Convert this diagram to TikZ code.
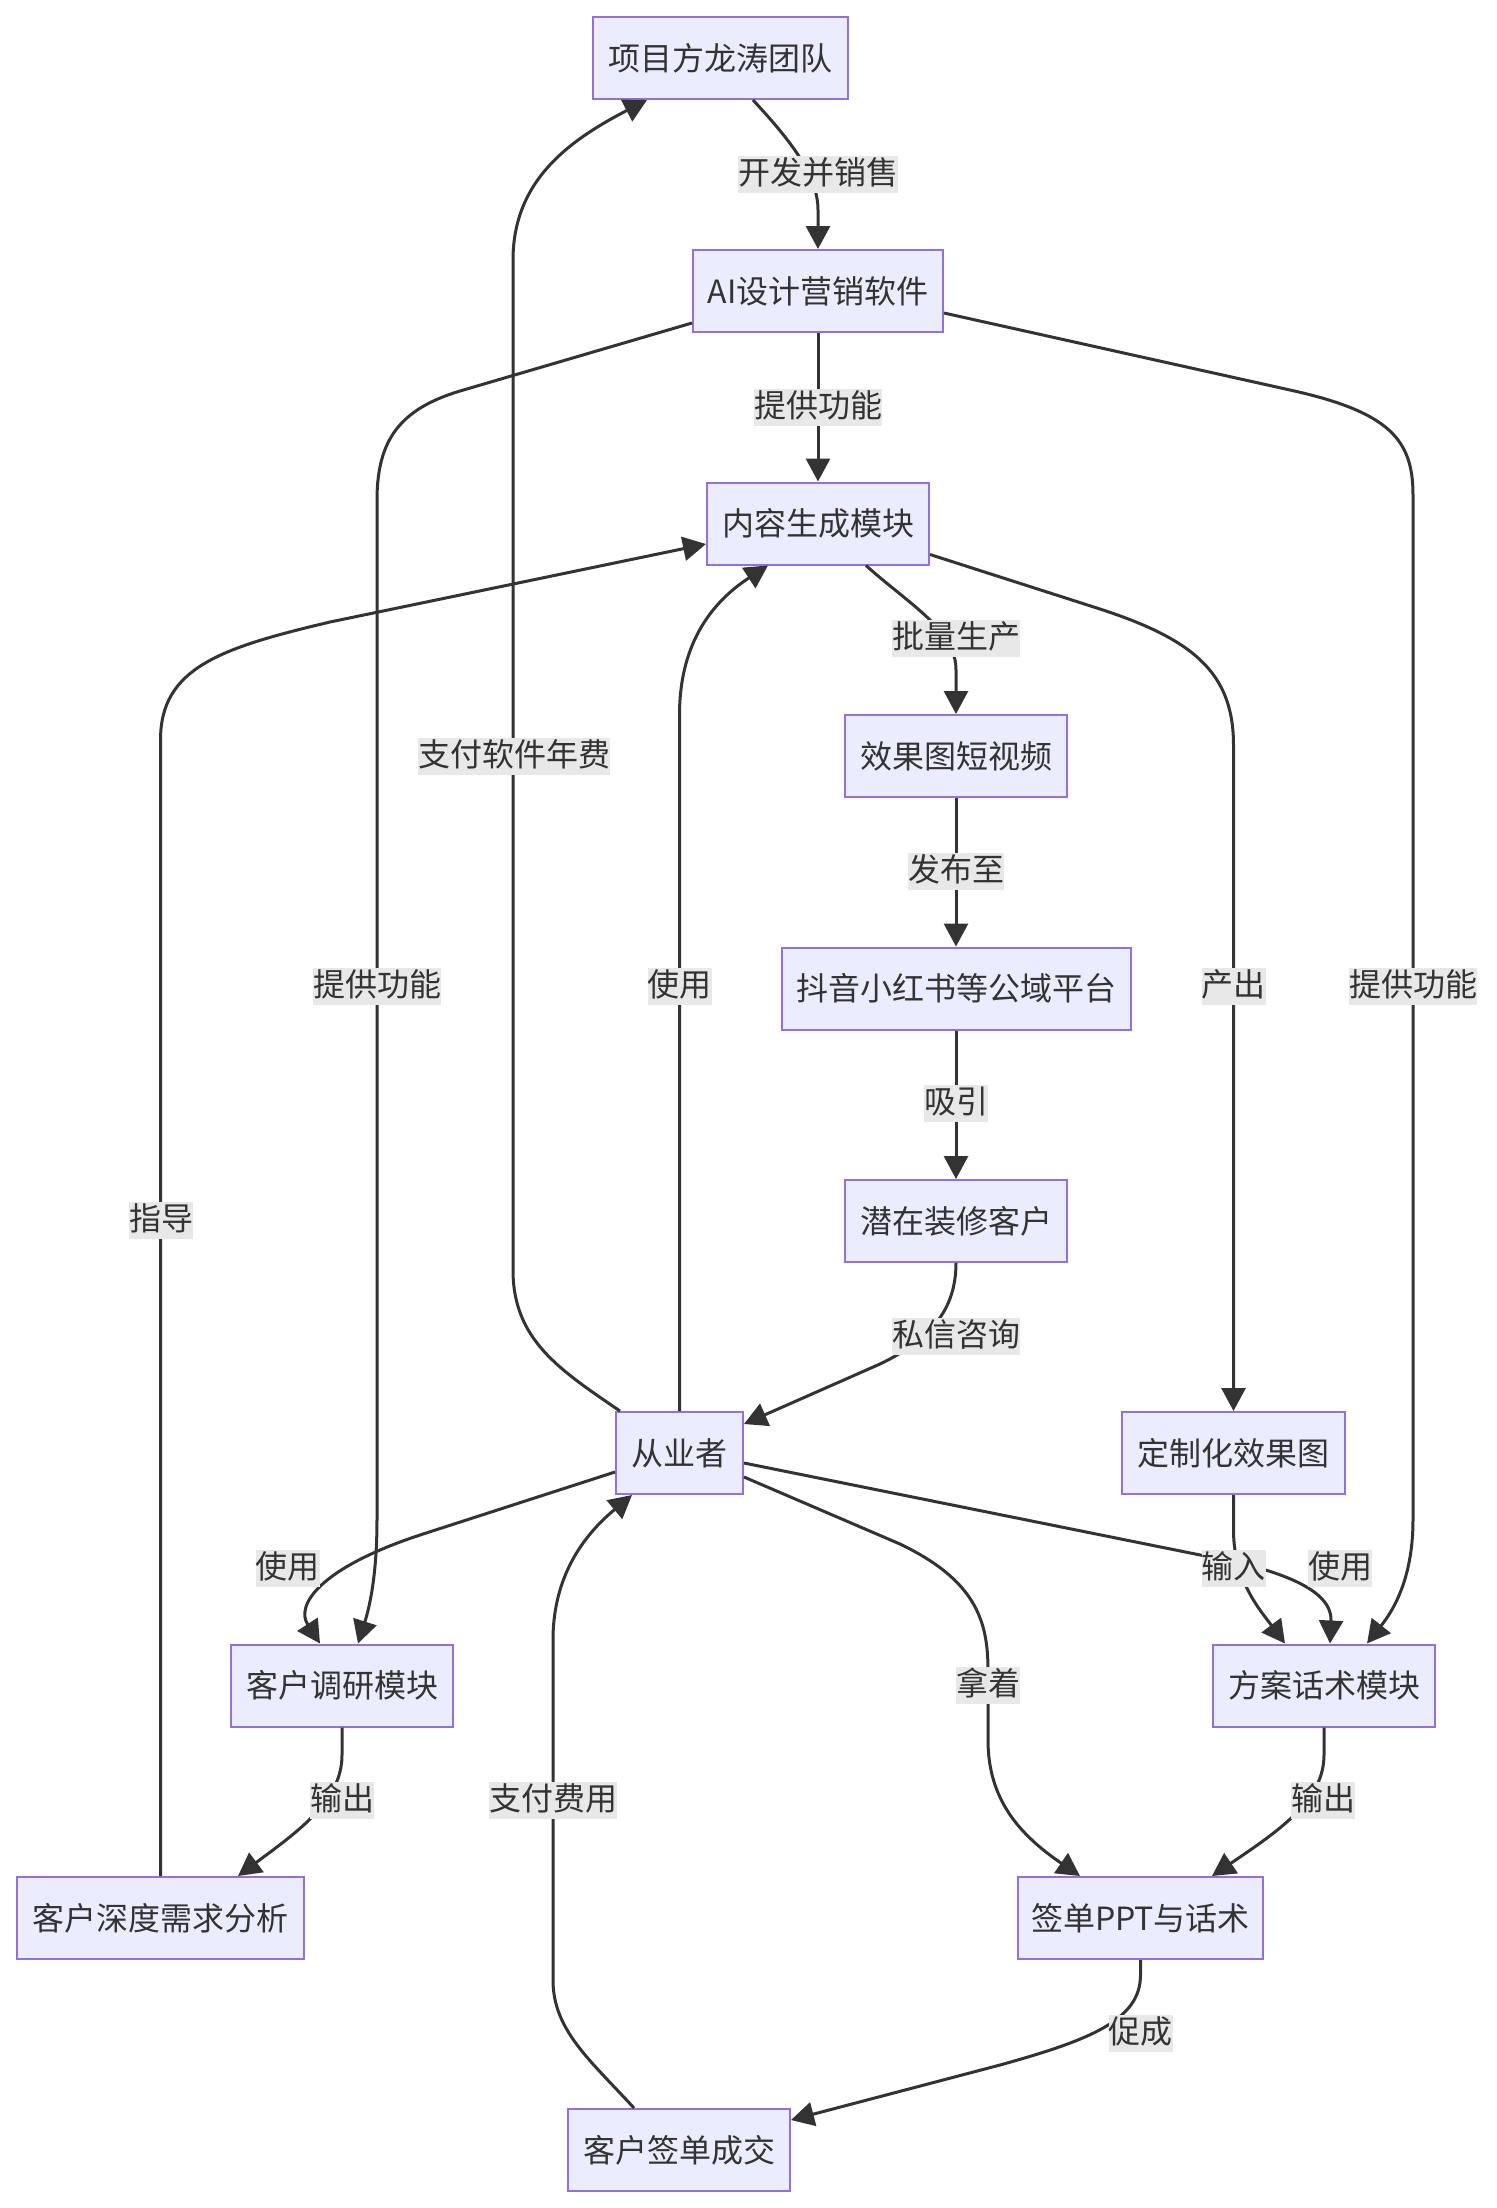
\documentclass[tikz,border=0pt]{standalone}
\usepackage{fontspec}
\newfontfamily\cjk{Noto Sans CJK SC}
\usetikzlibrary{arrows.meta,calc}
\definecolor{boxfill}{HTML}{ECECFF}
\definecolor{boxdraw}{HTML}{9370DB}
\definecolor{ink}{HTML}{333333}
\definecolor{lblbg}{HTML}{E8E8E8}
\tikzset{
  box/.style={draw=boxdraw, fill=boxfill, line width=1pt, minimum height=41pt, inner sep=0pt, text=ink, font=\cjk\fontsize{16pt}{19pt}\selectfont},
  lbl/.style={fill=lblbg, text=ink, inner xsep=0pt, inner ysep=0.5pt, text height=14pt, text depth=3.5pt, font=\cjk\fontsize{16pt}{19pt}\selectfont},
  edge/.style={draw=ink, line width=1.5pt, -{Triangle[length=11.5pt,width=12pt]}}
}
\begin{document}
\begin{tikzpicture}[x=0.5pt,y=-0.5pt]
\useasboundingbox (0,0) rectangle (1496,2208);
\fill[white] (0,0) rectangle (1496,2208);
% nodes
\node[box, minimum width=127.5pt] (proj) at (720.5,58) {项目方龙涛团队};
\node[box, minimum width=125pt] (ai) at (818,291) {AI设计营销软件};
\node[box, minimum width=111pt] (cont) at (818,523.5) {内容生成模块};
\node[box, minimum width=111pt] (eff) at (956,756) {效果图短视频};
\node[box, minimum width=174.5pt] (plat) at (956,988.5) {抖音小红书等公域平台};
\node[box, minimum width=111pt] (pot) at (956,1221) {潜在装修客户};
\node[box, minimum width=63.5pt] (cr) at (679.5,1453) {从业者};
\node[box, minimum width=111.5pt] (cust) at (1233.5,1453) {定制化效果图};
\node[box, minimum width=111pt] (res) at (342,1685.5) {客户调研模块};
\node[box, minimum width=111pt] (plan) at (1324,1685.5) {方案话术模块};
\node[box, minimum width=143.5pt] (deep) at (160.5,1918) {客户深度需求分析};
\node[box, minimum width=122.5pt] (ppt) at (1140.5,1918) {签单PPT与话术};
\node[box, minimum width=111pt] (deal) at (679,2150) {客户签单成交};
% edges
\draw[edge] ($(proj.south)+(32.5,0)$) .. controls (790,140) and (818,175) .. (818,210) -- (ai.north);
\draw[edge] (ai.south) -- (cont.north);
\draw[edge] ($(ai.west)+(0,32)$) -- (460,391) .. controls (400,409) and (377,440) .. (377,500) -- (377,1520) .. controls (377,1580) and (368,1612) .. ($(res.north)+(16,0)$);
\draw[edge] ($(ai.east)+(0,22)$) -- (1290,390) .. controls (1390,412) and (1413,440) .. (1413,495) -- (1413,1520) .. controls (1413,1580) and (1392,1612) .. ($(plan.north)+(43,0)$);
\draw[edge] ($(cont.south)+(48,0)$) .. controls (910,605) and (956,630) .. (956,670) -- (eff.north);
\draw[edge] ($(cont.east)+(0,31)$) -- (1100,609) .. controls (1192,639) and (1233.5,672) .. (1233.5,745) -- (cust.north);
\draw[edge] (eff.south) -- (plat.north);
\draw[edge] (plat.south) -- (pot.north);
\draw[edge] (pot.south) .. controls (956,1310) and (930,1340) .. (880,1364) -- ($(cr.east)+(0,-29)$);
\draw[edge] ($(cr.north)+(-59.5,0)$) .. controls (560,1370) and (513,1340) .. (513,1270) -- (513,260) .. controls (513,180) and (570,140) .. ($(proj.south)+(-73.5,0)$);
\draw[edge] (cr.north) -- (679.5,715) .. controls (679.5,640) and (715,600) .. ($(cont.south)+(-50,0)$);
\draw[edge] (deep.north) -- (160.5,740) .. controls (160.5,668) and (220,648) .. (330,622) -- ($(cont.west)+(0,20.5)$);
\draw[edge] ($(cr.west)+(0,19)$) -- (420,1535) .. controls (320,1568) and (295,1605) .. ($(res.north)+(-22,0)$);
\draw[edge] ($(cr.east)+(0,10)$) -- (1240,1563) .. controls (1310,1580) and (1332,1600) .. ($(plan.north)+(6,0)$);
\draw[edge] (cust.south) -- (1233.5,1530) .. controls (1233.5,1580) and (1260,1610) .. ($(plan.north)+(-39,0)$);
\draw[edge] ($(cr.east)+(0,24)$) -- (900,1544) .. controls (975,1580) and (988,1620) .. (988,1670) -- (988,1740) .. controls (988,1800) and (1020,1835) .. ($(ppt.north)+(-60.5,0)$);
\draw[edge] (res.south) -- (342,1755) .. controls (342,1800) and (300,1830) .. ($(deep.north)+(77.5,0)$);
\draw[edge] (plan.south) -- (1324,1755) .. controls (1324,1800) and (1280,1830) .. ($(ppt.north)+(71.5,0)$);
\draw[edge] (ppt.south) -- (1140.5,1975) .. controls (1140.5,2020) and (1090,2040) .. (1000,2065) -- ($(deal.east)+(0,-30)$);
\draw[edge] ($(deal.north)+(-45,0)$) .. controls (590,2060) and (553,2030) .. (553,1980) -- (553,1640) .. controls (553,1570) and (590,1530) .. ($(cr.south)+(-47.5,0)$);
% labels
\node[lbl] (l1) at (818,174) {开发并销售};
\node[lbl] (l2) at (818,407) {提供功能};
\node[lbl] (l3) at (377,986) {提供功能};
\node[lbl] (l4) at (1413,986) {提供功能};
\node[lbl] (l5) at (956,638) {批量生产};
\node[lbl] (l6) at (1233.5,986) {产出};
\node[lbl] (l7) at (956,871) {发布至};
\node[lbl] (l8) at (956,1103) {吸引};
\node[lbl] (l9) at (956,1336) {私信咨询};
\node[lbl] (l10) at (514,756) {支付软件年费};
\node[lbl] (l11) at (679.5,986) {使用};
\node[lbl] (l12) at (161,1220) {指导};
\node[lbl] (l13) at (287.5,1568) {使用};
\node[lbl] (l14) at (1340,1568) {使用};
\node[lbl] (l15) at (1233.5,1568) {输入};
\node[lbl] (l16) at (988,1685) {拿着};
\node[lbl] (l17) at (342,1800) {输出};
\node[lbl] (l18) at (1323,1800) {输出};
\node[lbl] (l19) at (1140.5,2033) {促成};
\node[lbl] (l20) at (553,1800) {支付费用};
\end{tikzpicture}
\end{document}
